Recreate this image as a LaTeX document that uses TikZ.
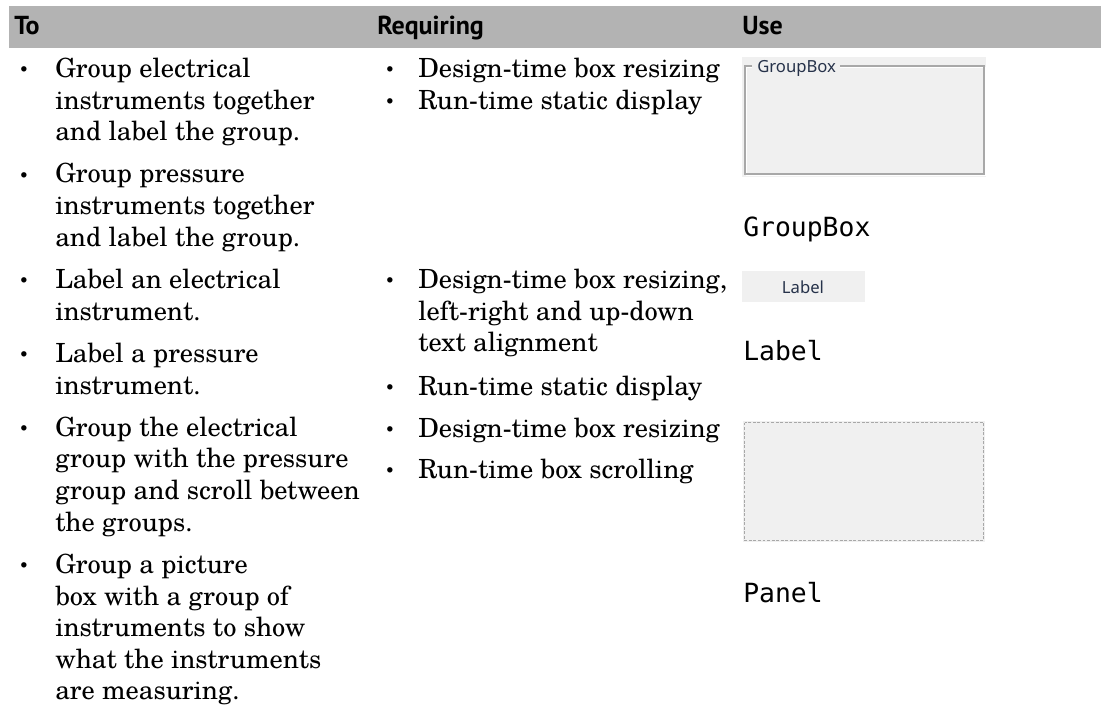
\documentclass[tikz,border=0pt]{standalone}
\usepackage{fontspec}
\usetikzlibrary{calc}
\newfontfamily\bodyfont{texgyreschola-regular.otf}
\newfontfamily\hdrfont{PT Sans}[BoldFont={PT Sans Bold}]
\newfontfamily\monofont{DejaVu Sans Mono}
\newfontfamily\uifont{Noto Sans}
\definecolor{barcol}{HTML}{B3B3B3}
\definecolor{uibg}{HTML}{F0F0F0}
\definecolor{uiframe}{HTML}{A8A8A8}
\definecolor{uitext}{HTML}{26324A}
\tikzset{
  hdr/.style={font=\hdrfont\bfseries\fontsize{19.5}{22}\selectfont, anchor=base west, inner sep=0pt},
  body/.style={font=\bodyfont\fontsize{19.8}{24}\selectfont, anchor=base west, inner sep=0pt},
  bul/.style={font=\bodyfont\fontsize{12}{12}\selectfont, inner sep=0pt},
  mono/.style={font=\monofont\fontsize{19.8}{22}\selectfont, anchor=base west, inner sep=0pt},
  ui/.style={font=\uifont\fontsize{12.5}{14}\selectfont, text=uitext, inner sep=0pt},
  widgetbg/.style={fill=uibg, draw=none},
}
\begin{document}
\begin{tikzpicture}[x=0.75pt,y=-0.75pt]
\useasboundingbox (0,0) rectangle (1101,710);
% header bar
\fill[barcol] (9,6) rectangle (1101,48);
\node[hdr] (hto) at (14,35) {To};
\node[hdr] (hreq) at (377,35) {Requiring};
\node[hdr] (huse) at (742,35) {Use};
% column 1
\node[bul] (c1b1) at (24,71.5) {\textbullet};
\node[body] (c1l1) at (55,77.5) {Group electrical};
\node[body] (c1l2) at (55,109.1) {instruments together};
\node[body] (c1l3) at (55,140.7) {and label the group.};
\node[bul] (c1b2) at (24,177) {\textbullet};
\node[body] (c1l4) at (55,183.0) {Group pressure};
\node[body] (c1l5) at (55,214.6) {instruments together};
\node[body] (c1l6) at (55,246.2) {and label the group.};
\node[bul] (c1b3) at (24,282.5) {\textbullet};
\node[body] (c1l7) at (55,288.5) {Label an electrical};
\node[body] (c1l8) at (55,320.1) {instrument.};
\node[bul] (c1b4) at (24,356.4) {\textbullet};
\node[body] (c1l9) at (55,362.4) {Label a pressure};
\node[body] (c1l10) at (55,394.0) {instrument.};
\node[bul] (c1b5) at (24,430.3) {\textbullet};
\node[body] (c1l11) at (55,436.3) {Group the electrical};
\node[body] (c1l12) at (55,467.9) {group with the pressure};
\node[body] (c1l13) at (55,499.5) {group and scroll between};
\node[body] (c1l14) at (55,531.1) {the groups.};
\node[bul] (c1b6) at (24,567.4) {\textbullet};
\node[body] (c1l15) at (55,573.4) {Group a picture};
\node[body] (c1l16) at (55,605.0) {box with a group of};
\node[body] (c1l17) at (55,636.6) {instruments to show};
\node[body] (c1l18) at (55,668.2) {what the instruments};
\node[body] (c1l19) at (55,699.8) {are measuring.};
% column 2
\node[bul] (c2b1) at (390,71.5) {\textbullet};
\node[body] (c2l1) at (418,77.5) {Design-time box resizing};
\node[bul] (c2b2) at (390,103.1) {\textbullet};
\node[body] (c2l2) at (418,109.1) {Run-time static display};
\node[bul] (c2b3) at (390,282.5) {\textbullet};
\node[body] (c2l3) at (418,288.5) {Design-time box resizing,};
\node[body] (c2l4) at (418,320.1) {left-right and up-down};
\node[body] (c2l5) at (418,351.7) {text alignment};
\node[bul] (c2b4) at (390,389.0) {\textbullet};
\node[body] (c2l6) at (418,395.0) {Run-time static display};
\node[bul] (c2b5) at (390,431.3) {\textbullet};
\node[body] (c2l7) at (418,437.3) {Design-time box resizing};
\node[bul] (c2b6) at (390,472.5) {\textbullet};
\node[body] (c2l8) at (418,478.5) {Run-time box scrolling};
% column 3: GroupBox widget
\fill[widgetbg] (742,57) rectangle (986,177);
\node[ui, anchor=west] (gbl) at (757,68) {GroupBox};
\draw[white, line width=0.8pt] (752,67.5) -- (746.5,67.5) -- (746.5,175.5) -- (985.5,175.5) -- (985.5,67.5) -- ($(gbl.east |- 985,67.5)+(4,0)$);
\draw[uiframe, line width=0.9pt] (752,66) -- (745,66) -- (745,174) -- (984,174) -- (984,66) -- ($(gbl.east |- 984,66)+(4,0)$);
\node[mono] (mgb) at (743,237) {GroupBox};
% Label widget
\fill[widgetbg] (742,271) rectangle (865,302);
\node[ui] (lbl) at (803,287) {Label};
\node[mono] (mlbl) at (743,360) {Label};
% Panel widget
\fill[widgetbg] (743,421) rectangle (985,542);
\draw[uiframe, line width=0.9pt, dash pattern=on 2.2pt off 1.2pt] (744.5,422.5) rectangle (983.5,540.5);
\node[mono] (mpnl) at (743,602) {Panel};
\end{tikzpicture}
\end{document}
